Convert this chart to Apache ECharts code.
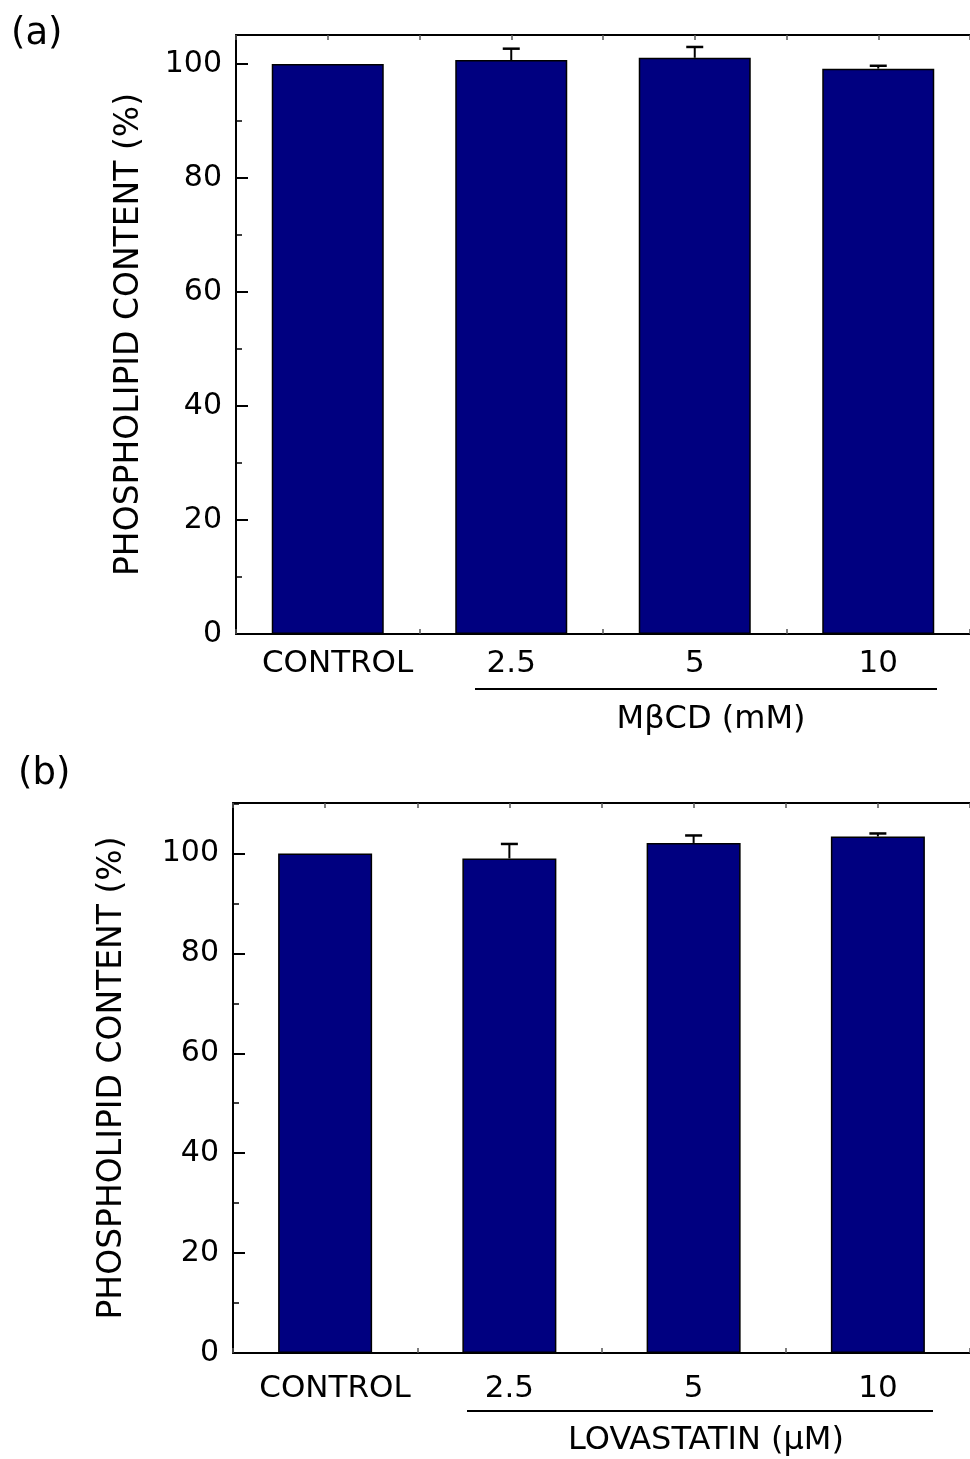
<!DOCTYPE html>
<html>
<head>
<meta charset="utf-8">
<script src="https://cdn.jsdelivr.net/npm/echarts@6/dist/echarts.min.js"></script>
<style>
  html, body { margin: 0; padding: 0; background: #fff; }
  #myChart { width: 970px; height: 1459px; }
</style>
</head>
<body>
<div id="myChart"></div>
<script>
    // categories (same for both panels)
    let categories = ['CONTROL', '2.5', '5', '10'];

    // panel (a) MβCD
    let mbcdValues = [100, 100.7, 101.1, 99.2];
    let mbcdErrTop = [100, 102.7, 103.0, 99.7];

    // panel (b) lovastatin
    let lovaValues = [100, 99.0, 102.1, 103.4];
    let lovaErrTop = [100, 101.9, 103.6, 104.0];

    let majorTicks = [0, 20, 40, 60, 80, 100];

    let font = 'DejaVu Sans';

    function errorBars(xIdx, yIdx, values, tops) {
        return {
            type: 'custom',
            xAxisIndex: xIdx,
            yAxisIndex: yIdx,
            z: 3,
            data: values.map(function (v, i) { return [i, v, tops[i]]; }),
            renderItem: function (params, api) {
                let lo = api.coord([api.value(0), api.value(1)]);
                let hi = api.coord([api.value(0), api.value(2)]);
                if (hi[1] >= lo[1] - 0.5) return;
                let half = 8.5;
                return {
                    type: 'group',
                    children: [
                        {type: 'line', shape: {x1: lo[0], y1: lo[1], x2: hi[0], y2: hi[1]},
                            style: {stroke: '#000', lineWidth: 2}},
                        {type: 'line', shape: {x1: hi[0] - half, y1: hi[1], x2: hi[0] + half, y2: hi[1]},
                            style: {stroke: '#000', lineWidth: 2.5}}
                    ]
                };
            }
        };
    }

    function catAxis(grid, margin) {
        return {
            type: 'category', gridIndex: grid, data: categories,
            axisLine: {show: false}, axisTick: {show: false},
            axisLabel: {interval: 0, margin: margin, color: '#000', fontSize: 31, fontFamily: font,
                formatter: function (v) { return v === 'CONTROL' ? '  ' + v : v; }}
        };
    }
    function tickAxis(grid, pos) {
        return {
            type: 'value', gridIndex: grid, position: pos, min: 0, max: 8, interval: 1,
            axisLine: {show: true, lineStyle: {color: '#000', width: 2}},
            axisTick: {show: true, inside: true, length: 5, lineStyle: {color: '#555', width: 1.5}},
            axisLabel: {show: false}, splitLine: {show: false}
        };
    }
    function majorY(grid, max, gap) {
        return {
            type: 'value', gridIndex: grid, min: 0, max: max, interval: 20,
            name: 'PHOSPHOLIPID CONTENT (%)', nameLocation: 'middle', nameGap: gap,
            nameTextStyle: {color: '#000', fontSize: 33, fontFamily: font},
            axisLine: {show: true, lineStyle: {color: '#000', width: 2}},
            axisTick: {show: true, inside: true, length: 12, lineStyle: {color: '#000', width: 2}},
            axisLabel: {color: '#000', fontSize: 30, fontFamily: font, margin: 14, showMaxLabel: false,
                formatter: function (v) { return majorTicks.indexOf(v) >= 0 ? String(v) : ''; }},
            splitLine: {show: false}
        };
    }
    function minorY(grid, max) {
        return {
            type: 'value', gridIndex: grid, min: 0, max: max, interval: 10, position: 'left',
            axisLine: {show: false},
            axisTick: {show: true, inside: true, length: 6, lineStyle: {color: '#000', width: 1.5}},
            axisLabel: {show: false}, splitLine: {show: false}
        };
    }

    let myChart = echarts.init(document.getElementById('myChart'));
    let option = {
        animation: false,
        backgroundColor: '#fff',
        grid: [
            {left: 236, top: 35, width: 736, height: 599},
            {left: 233, top: 803, width: 748, height: 550}
        ],
        xAxis: [
            catAxis(0, 14), tickAxis(0, 'bottom'), tickAxis(0, 'top'),
            catAxis(1, 20), tickAxis(1, 'bottom'), tickAxis(1, 'top')
        ],
        yAxis: [
            majorY(0, 105.1, 90), minorY(0, 105.1),
            majorY(1, 110.1, 104), minorY(1, 110.1)
        ],
        graphic: [
            {type: 'text', left: 11, top: 16, style: {text: '(a)', font: '37px ' + font, fill: '#000'}},
            {type: 'text', left: 18, top: 756, style: {text: '(b)', font: '37px ' + font, fill: '#000'}},
            {type: 'line', shape: {x1: 475, y1: 689, x2: 937, y2: 689}, style: {stroke: '#000', lineWidth: 2}},
            {type: 'text', x: 711, y: 720, style: {text: 'MβCD (mM)', font: '32px ' + font, fill: '#000',
                textAlign: 'center', textVerticalAlign: 'middle'}},
            {type: 'line', shape: {x1: 467, y1: 1411, x2: 933, y2: 1411}, style: {stroke: '#000', lineWidth: 2}},
            {type: 'text', x: 706, y: 1441, style: {text: 'LOVASTATIN (μM)', font: '32px ' + font, fill: '#000',
                textAlign: 'center', textVerticalAlign: 'middle'}}
        ],
        series: [
            {
                type: 'bar', xAxisIndex: 0, yAxisIndex: 0, data: mbcdValues, barWidth: 112,
                itemStyle: {color: '#000080', borderColor: '#000', borderWidth: 1.5}
            },
            errorBars(0, 0, mbcdValues, mbcdErrTop),
            {
                type: 'bar', xAxisIndex: 3, yAxisIndex: 2, data: lovaValues, barWidth: 94,
                itemStyle: {color: '#000080', borderColor: '#000', borderWidth: 1.5}
            },
            errorBars(3, 2, lovaValues, lovaErrTop)
        ]
    };
    myChart.setOption(option);
</script>
</body>
</html>
